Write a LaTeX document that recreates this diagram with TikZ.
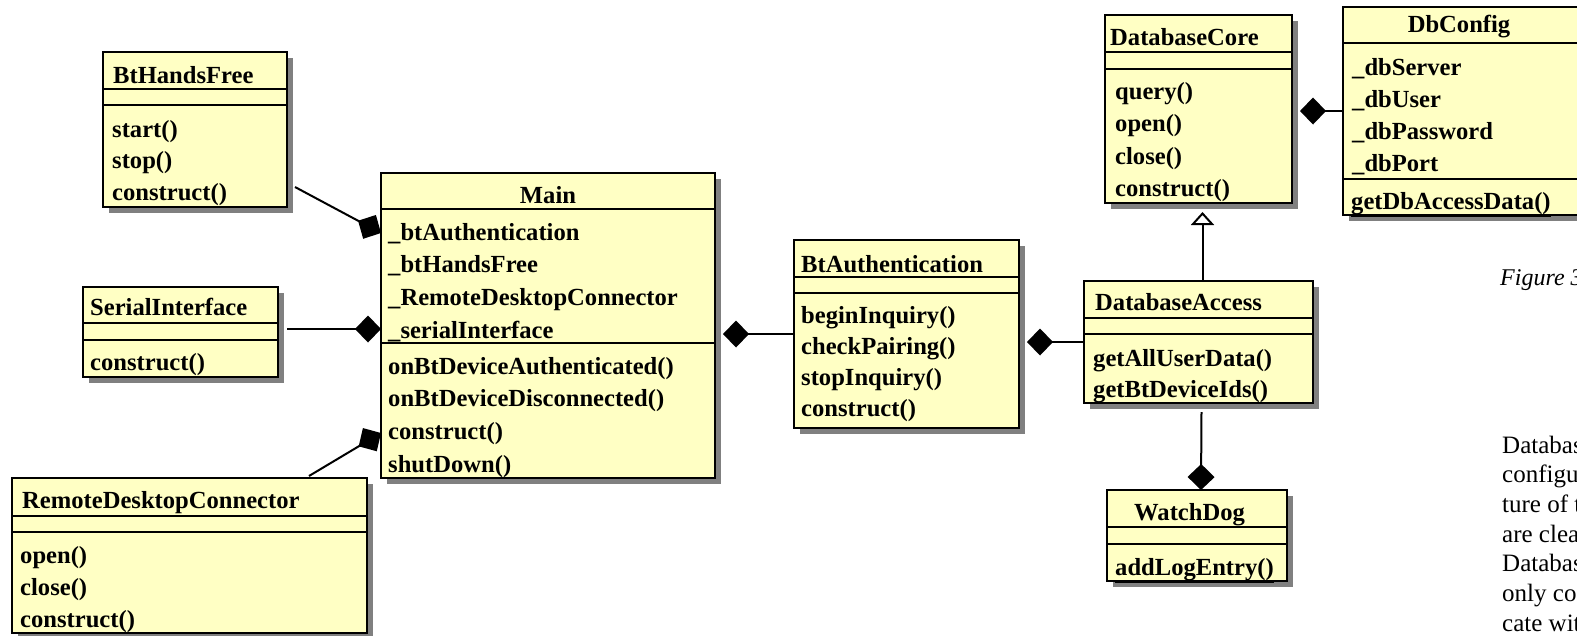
\documentclass[tikz,border=0pt]{standalone}
\usepackage{fontspec}
\setmainfont{Liberation Serif}
\usetikzlibrary{arrows.meta, calc, shadows}
\definecolor{classfill}{RGB}{255,255,196}
\definecolor{shadowgray}{RGB}{128,128,128}

\begin{document}
\begin{tikzpicture}[x=1pt, y=-1pt,
  classbox/.style={draw, line width=2pt, fill=classfill, anchor=north west,
    inner sep=0pt, outer sep=0pt,
    drop shadow={shadow xshift=6pt, shadow yshift=-6pt, fill=shadowgray, opacity=1}},
  sep/.style={line width=2pt},
  classname/.style={anchor=base west, inner sep=0pt, font=\fontsize{24.6}{28}\selectfont\bfseries},
  member/.style={classname},
  comp/.style={line width=2pt, -{Diamond[length=26pt, width=27pt]}},
  inherit/.style={line width=2pt, -{Triangle[open, length=13pt, width=23pt, fill=white]}},
  pagetext/.style={anchor=base west, inner sep=0pt, font=\fontsize{25}{29}\selectfont}]
\useasboundingbox (0,0) rectangle (1577,635);
\clip (0,0) rectangle (1577,635);

%%%%%%%%%% BtHandsFree
\begin{scope}[shift={(103,52)}]
\node[classbox, minimum width=184, minimum height=155] (hf) at (0,0) {};
\draw[sep] (0,37) -- (184,37) (0,53) -- (184,53);
\node[classname] (hf-name) at (10,31) {BtHandsFree};
\foreach \m [count=\i] in {start(), stop(), construct()}
  \node[member] (hf-op\i) at (9, 85+31.6*\i-31.6) {\m};
\end{scope}

%%%%%%%%%% SerialInterface
\begin{scope}[shift={(83,287)}]
\node[classbox, minimum width=195, minimum height=90] (si) at (0,0) {};
\draw[sep] (0,36) -- (195,36) (0,53) -- (195,53);
\node[classname] (si-name) at (7,28) {SerialInterface};
\node[member] (si-op1) at (7,83) {construct()};
\end{scope}

%%%%%%%%%% RemoteDesktopConnector
\begin{scope}[shift={(12,478)}]
\node[classbox, minimum width=355, minimum height=155] (rdc) at (0,0) {};
\draw[sep] (0,38) -- (355,38) (0,54) -- (355,54);
\node[classname] (rdc-name) at (10,30) {RemoteDesktopConnector};
\foreach \m [count=\i] in {open(), close(), construct()}
  \node[member] (rdc-op\i) at (8, 85+32*\i-32) {\m};
\end{scope}

%%%%%%%%%% Main
\begin{scope}[shift={(381,173)}]
\node[classbox, minimum width=334, minimum height=305] (main) at (0,0) {};
\draw[sep] (0,36) -- (334,36) (0,170) -- (334,170);
\node[classname, anchor=base] (main-name) at (167,30) {Main};
\foreach \m [count=\i] in {\_btAuthentication, \_btHandsFree, \_RemoteDesktopConnector, \_serialInterface}
  \node[member] (main-at\i) at (7, 67+32.7*\i-32.7) {\m};
\foreach \m [count=\i] in {onBtDeviceAuthenticated(), onBtDeviceDisconnected(), construct(), shutDown()}
  \node[member] (main-op\i) at (7, 201+32.7*\i-32.7) {\m};
\end{scope}

%%%%%%%%%% BtAuthentication
\begin{scope}[shift={(794,240)}]
\node[classbox, minimum width=225, minimum height=188] (ba) at (0,0) {};
\draw[sep] (0,37) -- (225,37) (0,53) -- (225,53);
\node[classname] (ba-name) at (7,32) {BtAuthentication};
\foreach \m [count=\i] in {beginInquiry(), checkPairing(), stopInquiry(), construct()}
  \node[member] (ba-op\i) at (7, 83+31.3*\i-31.3) {\m};
\end{scope}

%%%%%%%%%% DatabaseCore
\begin{scope}[shift={(1105,15)}]
\node[classbox, minimum width=187, minimum height=188] (dc) at (0,0) {};
\draw[sep] (0,37) -- (187,37) (0,54) -- (187,54);
\node[classname] (dc-name) at (5,30) {DatabaseCore};
\foreach \m [count=\i] in {query(), open(), close(), construct()}
  \node[member] (dc-op\i) at (10, 84+32.5*\i-32.5) {\m};
\end{scope}

%%%%%%%%%% DbConfig
\begin{scope}[shift={(1343,7)}]
\node[classbox, minimum width=240, minimum height=208] (db) at (0,0) {};
\draw[sep] (0,36) -- (240,36) (0,172) -- (240,172);
\node[classname, anchor=base] (db-name) at (116,25) {DbConfig};
\foreach \m [count=\i] in {\_dbServer, \_dbUser, \_dbPassword, \_dbPort}
  \node[member] (db-at\i) at (9, 68+32.3*\i-32.3) {\m};
\node[member] (db-op1) at (8,202) {\underline{getDbAccessData()}};
\end{scope}

%%%%%%%%%% DatabaseAccess
\begin{scope}[shift={(1084,281)}]
\node[classbox, minimum width=229, minimum height=122] (da) at (0,0) {};
\draw[sep] (0,37) -- (229,37) (0,53) -- (229,53);
\node[classname] (da-name) at (11,29) {DatabaseAccess};
\foreach \m [count=\i] in {getAllUserData(), getBtDeviceIds()}
  \node[member] (da-op\i) at (9, 85+31.5*\i-31.5) {\m};
\end{scope}

%%%%%%%%%% WatchDog
\begin{scope}[shift={(1107,490)}]
\node[classbox, minimum width=180, minimum height=91] (wd) at (0,0) {};
\draw[sep] (0,37) -- (180,37) (0,54) -- (180,54);
\node[classname] (wd-name) at (27,30) {WatchDog};
\node[member] (wd-op1) at (8,85) {\underline{addLogEntry()}};
\end{scope}

%%%%%%%%%% connectors
\coordinate (hf-port) at ($(hf.south east)+(8,-20)$);
\coordinate (main-hf) at ($(main.north west)+(0,60)$);
\coordinate (si-port) at ($(si.east)+(9,-3)$);
\coordinate (main-si) at (main.west |- si-port);
\coordinate (rdc-port) at ($(rdc.north east)+(-58,-2)$);
\coordinate (main-rdc) at ($(main.north west)+(0,260)$);
\coordinate (main-ba) at ($(main.east |- ba.west)+(8,0)$);
\coordinate (ba-da) at ($(ba.east |- da.west)+(8,0)$);
\coordinate (dc-db) at ($(dc.east |- db.west)+(8,0)$);
\coordinate (da-top) at ($(da.north)+(4,0)$);
\coordinate (dc-base) at ($(dc.south)+(4,9)$);
\coordinate (da-bot) at ($(da.south)+(3,9)$);
\coordinate (wd-top) at ($(wd.north)+(4,0)$);

\draw[comp] (hf-port) -- (main-hf);
\draw[comp] (si-port) -- (main-si);
\draw[comp] (rdc-port) -- (main-rdc);
\draw[comp] (ba.west) -- (main-ba);
\draw[comp] (da.west) -- (ba-da);
\draw[comp] (db.west) -- (dc-db);
\draw[inherit] (da-top) -- (dc-base);
\draw[comp] (da-bot) -- (wd-top);

%%%%%%%%%% page text at the right
\node[pagetext, font=\fontsize{24}{28}\selectfont\itshape] (fig) at (1500,285) {Figure 3};
\foreach \l [count=\i] in {Databas, configu, ture of t, are clear, Databas, only con, cate wit}
  \node[pagetext] (para\i) at (1502, 453+29.7*\i-29.7) {\l};

\end{tikzpicture}
\end{document}
